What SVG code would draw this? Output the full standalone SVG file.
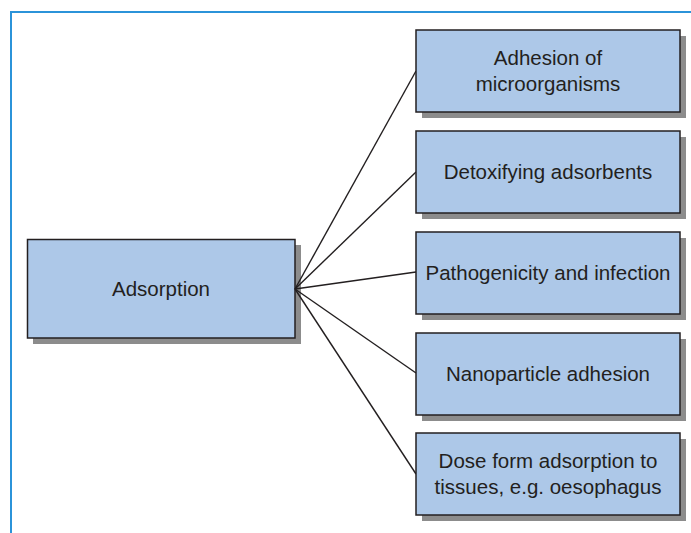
<svg xmlns="http://www.w3.org/2000/svg" width="691" height="533" viewBox="0 0 691 533">
  <style>
    .frame { fill: none; stroke: #2b93d9; stroke-width: 2; }
    .shadow { fill: #8c8c8c; }
    .box { fill: #adc8e8; stroke: #231f20; stroke-width: 1.5; }
    .label { font-family: "Liberation Sans", Arial, sans-serif; font-size: 20.5px; fill: #231f20; text-anchor: middle; }
    .link { stroke: #231f20; stroke-width: 1.4; fill: none; }
  </style>

  <!-- page frame -->
  <path class="frame" d="M11 533 V12 H691"/>

  <g id="adsorption">
    <rect class="shadow" x="33" y="245" width="268" height="99"/>
    <rect class="box" x="27.5" y="239.5" width="267.5" height="98.5"/>
    <text class="label" x="161" y="296">Adsorption</text>
  </g>

  <!-- links fan out from the right edge of the root box, over its shadow -->
  <g id="connectors">
    <line class="link" x1="295" y1="289" x2="416" y2="71"/>
    <line class="link" x1="295" y1="289" x2="416" y2="172"/>
    <line class="link" x1="295" y1="289" x2="416" y2="272"/>
    <line class="link" x1="295" y1="289" x2="416" y2="373"/>
    <line class="link" x1="295" y1="289" x2="416" y2="474"/>
  </g>

  <g id="adhesion-microorganisms">
    <rect class="shadow" x="422" y="36" width="264" height="82"/>
    <rect class="box" x="416" y="30" width="264" height="82"/>
    <text class="label" x="548" y="65">Adhesion of</text>
    <text class="label" x="548" y="91">microorganisms</text>
  </g>

  <g id="detoxifying-adsorbents">
    <rect class="shadow" x="422" y="137" width="264" height="82"/>
    <rect class="box" x="416" y="131" width="264" height="82"/>
    <text class="label" x="548" y="179">Detoxifying adsorbents</text>
  </g>

  <g id="pathogenicity-infection">
    <rect class="shadow" x="422" y="238" width="264" height="82"/>
    <rect class="box" x="416" y="232" width="264" height="82"/>
    <text class="label" x="548" y="280">Pathogenicity and infection</text>
  </g>

  <g id="nanoparticle-adhesion">
    <rect class="shadow" x="422" y="339" width="264" height="82"/>
    <rect class="box" x="416" y="333" width="264" height="82"/>
    <text class="label" x="548" y="381">Nanoparticle adhesion</text>
  </g>

  <g id="dose-form-adsorption">
    <rect class="shadow" x="422" y="439" width="264" height="82"/>
    <rect class="box" x="416" y="433" width="264" height="82"/>
    <text class="label" x="548" y="468">Dose form adsorption to</text>
    <text class="label" x="548" y="494">tissues, e.g. oesophagus</text>
  </g>
</svg>
